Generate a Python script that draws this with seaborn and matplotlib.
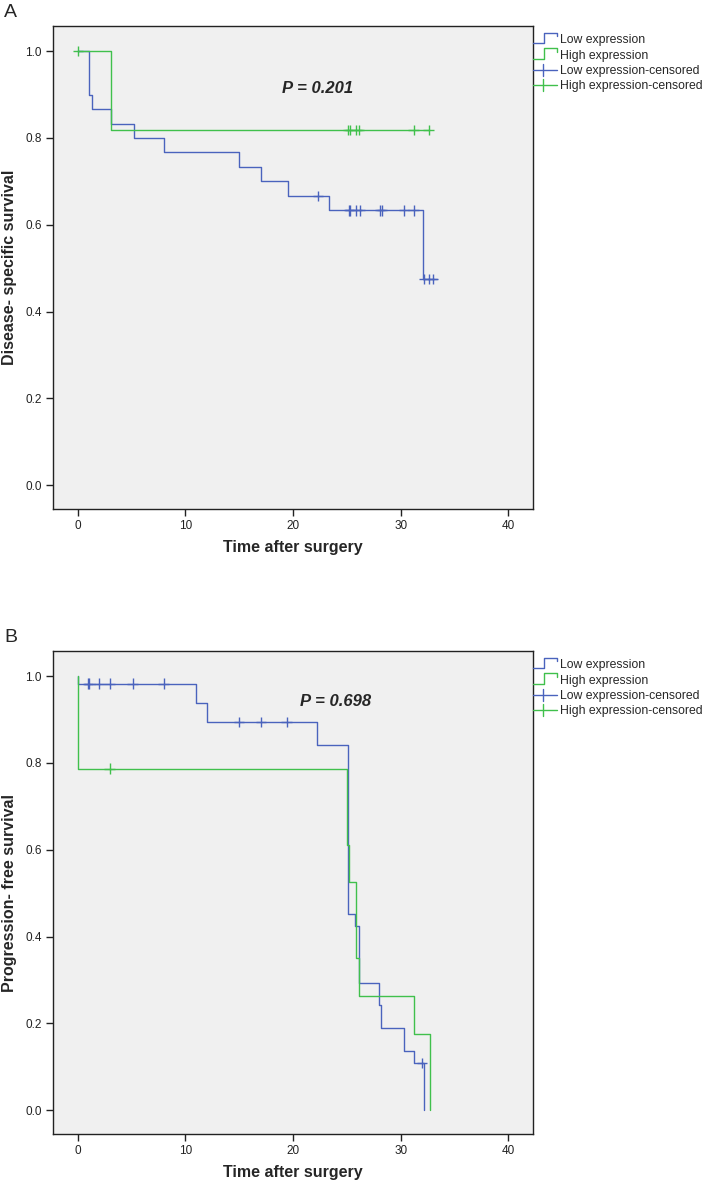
import numpy as np
import pandas as pd
import matplotlib
matplotlib.use('Agg')
import matplotlib.pyplot as plt
from matplotlib.lines import Line2D
from matplotlib.legend_handler import HandlerBase
import seaborn as sns

# Kaplan-Meier step values (time, survival)
a_low_t = [0, 1.03, 1.28, 3.05, 5.2, 8.04, 15.0, 17.07, 19.5, 23.3, 32.05, 33.4]
a_low_s = [1.0, 0.9, 0.867, 0.833, 0.8, 0.767, 0.733, 0.7, 0.667, 0.633, 0.475, 0.475]
a_low_cens = [22.3, 25.2, 25.3, 25.9, 26.2, 28.1, 28.3, 30.3, 31.2, 32.2, 32.6, 33.0]
a_high_t = [0, 3.05, 32.6]
a_high_s = [1.0, 0.818, 0.818]
a_high_cens = [0, 25.1, 25.3, 25.9, 26.1, 31.2, 32.6]

b_low_t = [0, 0, 11.0, 12.0, 22.2, 25.1, 25.8, 26.1, 28.0, 28.2, 30.3, 31.2, 32.2]
b_low_s = [1.0, 0.983, 0.939, 0.895, 0.842, 0.452, 0.425, 0.294, 0.242, 0.19, 0.136, 0.108, 0.0]
b_low_cens = [0.93, 1.09, 1.96, 2.96, 5.1, 7.98, 15.0, 17.0, 19.4, 32.0]
b_high_t = [0, 0, 25.0, 25.2, 25.9, 26.1, 31.2, 32.7]
b_high_s = [1.0, 0.787, 0.612, 0.525, 0.35, 0.2625, 0.175, 0.0]
b_high_cens = [2.96]

groups = ['Low expression', 'High expression']
x_ticks = [0, 10, 20, 30, 40]
y_ticks = [0.0, 0.2, 0.4, 0.6, 0.8, 1.0]

BLUE = '#4a63bd'
GREEN = '#40c04c'
palette = {'Low expression': BLUE, 'High expression': GREEN}


def surv_at(ts, ss, t):
  idx = np.searchsorted(np.array(ts), t, side='right') - 1
  return ss[idx]


def make_frames(low_t, low_s, low_c, high_t, high_s, high_c):
  curves = pd.concat([
      pd.DataFrame({'time': low_t, 'surv': low_s, 'group': groups[0]}),
      pd.DataFrame({'time': high_t, 'surv': high_s, 'group': groups[1]}),
  ], ignore_index=True)
  cens = pd.concat([
      pd.DataFrame({'time': low_c, 'surv': [surv_at(low_t, low_s, t) for t in low_c], 'group': groups[0]}),
      pd.DataFrame({'time': high_c, 'surv': [surv_at(high_t, high_s, t) for t in high_c], 'group': groups[1]}),
  ], ignore_index=True)
  return curves, cens


class StepHandler(HandlerBase):
  def create_artists(self, legend, orig_handle, xdescent, ydescent, width, height, fontsize, trans):
    x0, y0 = -xdescent, -ydescent
    xs = [x0, x0 + 0.45 * width, x0 + 0.45 * width, x0 + width, x0 + width]
    ys = [y0 + 0.0 * height, y0 + 0.0 * height, y0 + 1.2 * height, y0 + 1.2 * height, y0 + 0.8 * height]
    return [Line2D(xs, ys, color=orig_handle.get_color(), lw=1.0, transform=trans)]


class CensHandler(HandlerBase):
  def create_artists(self, legend, orig_handle, xdescent, ydescent, width, height, fontsize, trans):
    x0, y0 = -xdescent, -ydescent
    ym = y0 + 0.5 * height
    h = Line2D([x0, x0 + width], [ym, ym], color=orig_handle.get_color(), lw=1.0, transform=trans)
    v = Line2D([x0 + 0.4 * width] * 2, [y0 - 0.2 * height, y0 + 1.2 * height],
               color=orig_handle.get_color(), lw=1.0, transform=trans)
    return [h, v]


def draw_panel(ax, curves, cens, ylabel, ptext, pxy):
  sns.lineplot(data=curves, x='time', y='surv', hue='group', palette=palette,
               hue_order=groups, estimator=None, sort=False, drawstyle='steps-post',
               linewidth=1.0, legend=False, ax=ax)
  sns.scatterplot(data=cens, x='time', y='surv', hue='group', palette=palette,
                  hue_order=groups, marker='+', s=55, linewidth=1.0, legend=False, ax=ax)
  ax.set_xlim(-2.3, 42.3)
  ax.set_ylim(-0.055, 1.058)
  ax.set_xticks(x_ticks)
  ax.set_yticks(y_ticks)
  ax.set_yticklabels([f'{v:.1f}' for v in y_ticks])
  ax.tick_params(direction='out', length=5, width=1, colors='#222222', labelsize=8.5, pad=3)
  for sp in ax.spines.values():
    sp.set_visible(True)
    sp.set_color('#222222')
    sp.set_linewidth(1.0)
  ax.set_xlabel('Time after surgery', fontsize=11.5, fontweight='bold', labelpad=6)
  ax.set_ylabel(ylabel, fontsize=11.5, fontweight='bold', labelpad=6)
  ax.text(pxy[0], pxy[1], ptext, ha='center', va='center', fontsize=12,
          fontweight='bold', fontstyle='italic')

  handles = [Line2D([], [], color=BLUE), Line2D([], [], color=GREEN),
             Line2D([], [], color=BLUE), Line2D([], [], color=GREEN)]
  labels = ['Low expression', 'High expression',
            'Low expression-censored', 'High expression-censored']
  hmap = {handles[0]: StepHandler(), handles[1]: StepHandler(),
          handles[2]: CensHandler(), handles[3]: CensHandler()}
  ax.legend(handles, labels, handler_map=hmap, loc='upper left',
            bbox_to_anchor=(1.0, 0.983), borderaxespad=0, borderpad=0,
            frameon=False, fontsize=8.8, handlelength=2.0, handletextpad=0.2,
            labelspacing=0.28)


sns.set_style('ticks', {'axes.facecolor': '#f0f0f0'})
plt.rcParams['font.family'] = ['Liberation Sans', 'DejaVu Sans']

fig = plt.figure(figsize=(7.08, 11.88), dpi=100)
W, H = 708, 1188
ax_a = fig.add_axes([53 / W, 1 - 509 / H, 480 / W, 483 / H])
ax_b = fig.add_axes([53 / W, 1 - 1134 / H, 480 / W, 483 / H])

curves_a, cens_a = make_frames(a_low_t, a_low_s, a_low_cens, a_high_t, a_high_s, a_high_cens)
curves_b, cens_b = make_frames(b_low_t, b_low_s, b_low_cens, b_high_t, b_high_s, b_high_cens)

draw_panel(ax_a, curves_a, cens_a, 'Disease- specific survival', 'P = 0.201', (22.3, 0.914))
draw_panel(ax_b, curves_b, cens_b, 'Progression- free survival', 'P = 0.698', (24.0, 0.942))

fig.text(4 / W, 1 - 4 / H, 'A', fontsize=14, va='top', ha='left')
fig.text(4 / W, 1 - 629 / H, 'B', fontsize=14, va='top', ha='left')

fig.savefig('out.png', dpi=100)
